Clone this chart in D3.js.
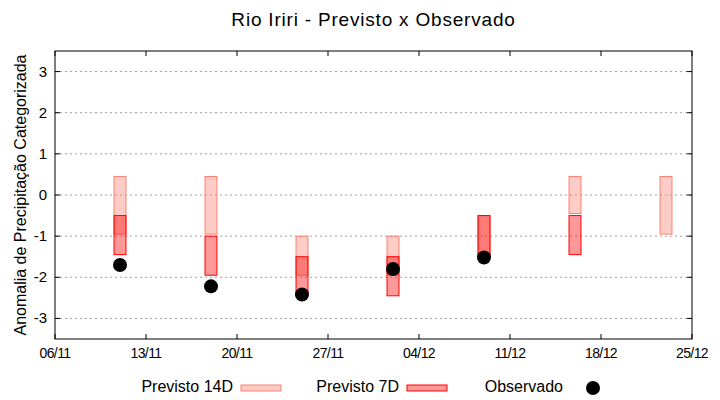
<!DOCTYPE html>
<html>
<head>
<meta charset="utf-8">
<script src="https://cdn.jsdelivr.net/npm/d3@7"></script>
<style>
  body { margin: 0; background: #fff; }
  svg { font-family: "Liberation Sans", Arial, sans-serif; }
</style>
</head>
<body>
<svg id="chart" width="720" height="400"></svg>
<script>
const dates = ["2023-11-11", "2023-11-18", "2023-11-25", "2023-12-02", "2023-12-09", "2023-12-16", "2023-12-23"];
const prev14Top = [0.45, 0.45, -1.0, -1.0, -0.5, 0.45, 0.45];
const prev14Bot = [-0.95, -0.95, -1.95, -1.95, -1.5, -0.45, -0.95];
const prev7Top = [-0.5, -1.0, -1.5, -1.5, -0.5, -0.5, null];
const prev7Bot = [-1.45, -1.95, -2.45, -2.45, -1.5, -1.45, null];
const observed = [-1.7, -2.22, -2.42, -1.8, -1.52, null, null];
const yTicks = [-3, -2, -1, 0, 1, 2, 3];
const xStart = "2023-11-06";
const xEnd = "2023-12-25";

const parse = d3.utcParse("%Y-%m-%d");
const fmt = d3.utcFormat("%d/%m");

const margin = { left: 55, right: 28, top: 51, bottom: 61 };
const width = 720, height = 400;

const svg = d3.select("#chart");

const x = d3.scaleUtc()
  .domain([parse(xStart), parse(xEnd)])
  .range([margin.left, width - margin.right]);

const y = d3.scaleLinear()
  .domain([-3.5, 3.5])
  .range([height - margin.bottom, margin.top]);

// weekly ticks counted from the first day
const xTicks = d3.utcDay.range(parse(xStart), d3.utcDay.offset(parse(xEnd), 1), 7);
const halfBar = 0.46 * 24 * 3600 * 1000;

const rows = dates.map((d, i) => ({
  date: parse(d),
  t14: prev14Top[i], b14: prev14Bot[i],
  t7: prev7Top[i], b7: prev7Bot[i],
  obs: observed[i]
}));

// grid
svg.append("g")
  .selectAll("line")
  .data(yTicks)
  .join("line")
  .attr("x1", margin.left)
  .attr("x2", width - margin.right)
  .attr("y1", d => y(d))
  .attr("y2", d => y(d))
  .attr("stroke", "#a0a0a0")
  .attr("stroke-width", 1)
  .attr("stroke-dasharray", "2,3");

// previsto 14D
svg.append("g")
  .selectAll("rect")
  .data(rows.filter(r => r.t14 != null))
  .join("rect")
  .attr("x", r => x(new Date(+r.date - halfBar)))
  .attr("width", r => x(new Date(+r.date + halfBar)) - x(new Date(+r.date - halfBar)))
  .attr("y", r => y(r.t14))
  .attr("height", r => y(r.b14) - y(r.t14))
  .attr("fill", "salmon")
  .attr("fill-opacity", 0.4)
  .attr("stroke", "salmon")
  .attr("stroke-width", 1);

// previsto 7D
svg.append("g")
  .selectAll("rect")
  .data(rows.filter(r => r.t7 != null))
  .join("rect")
  .attr("x", r => x(new Date(+r.date - halfBar)))
  .attr("width", r => x(new Date(+r.date + halfBar)) - x(new Date(+r.date - halfBar)))
  .attr("y", r => y(r.t7))
  .attr("height", r => y(r.b7) - y(r.t7))
  .attr("fill", "red")
  .attr("fill-opacity", 0.4)
  .attr("stroke", "red")
  .attr("stroke-width", 1);

// observado
svg.append("g")
  .selectAll("circle")
  .data(rows.filter(r => r.obs != null))
  .join("circle")
  .attr("cx", r => x(r.date))
  .attr("cy", r => y(r.obs))
  .attr("r", 7)
  .attr("fill", "#000");

// frame and ticks
const x0 = margin.left, x1 = width - margin.right;
const y0 = margin.top, y1 = height - margin.bottom;
svg.append("rect")
  .attr("x", x0).attr("y", y0)
  .attr("width", x1 - x0).attr("height", y1 - y0)
  .attr("fill", "none").attr("stroke", "#000").attr("stroke-width", 1);

const tl = 5;
const ticks = svg.append("g").attr("stroke", "#000").attr("stroke-width", 1);
yTicks.forEach(v => {
  ticks.append("line").attr("x1", x0).attr("x2", x0 + tl).attr("y1", y(v)).attr("y2", y(v));
  ticks.append("line").attr("x1", x1).attr("x2", x1 - tl).attr("y1", y(v)).attr("y2", y(v));
});
xTicks.forEach(d => {
  ticks.append("line").attr("x1", x(d)).attr("x2", x(d)).attr("y1", y1).attr("y2", y1 - tl);
  ticks.append("line").attr("x1", x(d)).attr("x2", x(d)).attr("y1", y0).attr("y2", y0 + tl);
});

svg.append("g")
  .selectAll("text")
  .data(yTicks)
  .join("text")
  .attr("x", x0 - 8)
  .attr("y", d => y(d) + 5)
  .attr("text-anchor", "end")
  .style("font-size", "15px")
  .attr("fill", "#000")
  .text(d => d);

svg.append("g")
  .selectAll("text")
  .data(xTicks)
  .join("text")
  .attr("x", d => x(d))
  .attr("y", y1 + 19)
  .attr("text-anchor", "middle")
  .style("font-size", "14px")
  .style("letter-spacing", "-0.6px")
  .attr("fill", "#000")
  .text(d => fmt(d));

// title and axis label
svg.append("text")
  .attr("x", (x0 + x1) / 2)
  .attr("y", 26)
  .attr("text-anchor", "middle")
  .style("font-size", "19px")
  .style("letter-spacing", "0.8px")
  .attr("fill", "#000")
  .text("Rio Iriri - Previsto x Observado");

svg.append("text")
  .attr("transform", `translate(26,${(y0 + y1) / 2}) rotate(-90)`)
  .attr("text-anchor", "middle")
  .style("font-size", "16px")
  .attr("fill", "#000")
  .text("Anomalia de Precipitação Categorizada");

// legend
const legend = svg.append("g").style("font-size", "16px").attr("fill", "#000");
const legendY = 392;
legend.append("text").attr("x", 233).attr("y", legendY).attr("text-anchor", "end").text("Previsto 14D");
legend.append("rect").attr("x", 241).attr("y", 385).attr("width", 40).attr("height", 6)
  .attr("fill", "salmon").attr("fill-opacity", 0.4).attr("stroke", "salmon");
legend.append("text").attr("x", 399).attr("y", legendY).attr("text-anchor", "end").text("Previsto 7D");
legend.append("rect").attr("x", 407).attr("y", 385).attr("width", 40).attr("height", 6)
  .attr("fill", "red").attr("fill-opacity", 0.4).attr("stroke", "red");
legend.append("text").attr("x", 563).attr("y", legendY).attr("text-anchor", "end").text("Observado");
legend.append("circle").attr("cx", 593).attr("cy", 388).attr("r", 7).attr("fill", "#000");
</script>
</body>
</html>
